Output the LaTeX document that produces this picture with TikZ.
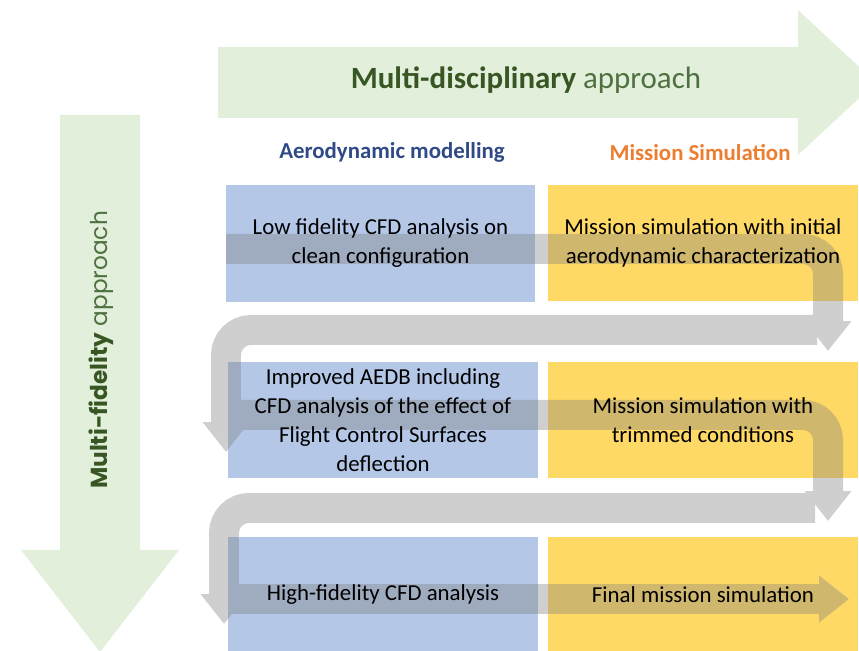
\documentclass[tikz,border=0pt]{standalone}
\usepackage{fontspec}
\setmainfont{Carlito}
\newfontfamily\geofont{Poppins}
\usetikzlibrary{arrows.meta,positioning}

\pgfdeclarelayer{background}
\pgfdeclarelayer{flowlayer}
\pgfsetlayers{background,flowlayer,main}

\definecolor{arrowgreen}{HTML}{E2EFDA}
\definecolor{titlegreen}{HTML}{375623}
\definecolor{softgreen}{HTML}{4F7040}
\definecolor{aeroblue}{HTML}{2F4A86}
\definecolor{missionorange}{HTML}{ED7D31}
\definecolor{boxblue}{HTML}{B4C7E7}
\definecolor{boxyellow}{HTML}{FFD966}
\definecolor{flowgray}{HTML}{7D7D7D}

\tikzset{
	stagebox/.style={minimum width=6.18cm, minimum height=2.32cm, inner sep=0pt, align=center, font=\fontsize{13}{16.5}\selectfont},
	header/.style={font=\fontsize{13}{15}\selectfont\bfseries},
	flow/.style={draw=flowgray, line width=0.6cm, rounded corners=0.5cm, -{Triangle[width=0.9cm, length=0.6cm]}}
}

\begin{document}
\begin{tikzpicture}[x=0.02cm, y=-0.02cm]

\useasboundingbox (0,0) rectangle (859,651);

% Big green arrows
\fill[arrowgreen] (218,47) -- (798,47) -- (798,10) -- (876,82.5) -- (798,155) -- (798,118) -- (218,118) -- cycle;
\fill[arrowgreen] (60,115) -- (140,115) -- (140,550) -- (179,550) -- (100,652) -- (21,550) -- (60,550) -- cycle;

\node[font=\fontsize{17.6}{20}\selectfont] (mdtitle) at (526,80) {\textcolor{titlegreen}{\bfseries Multi-disciplinary} \textcolor{softgreen}{approach}};
\node[rotate=90, font=\geofont\fontsize{13.2}{15}\selectfont] (mftitle) at (101,350) {\textcolor{titlegreen}{\bfseries Multi-fidelity} \textcolor{softgreen}{approach}};

% Column headers
\node[header, text=aeroblue] (aerohead) at (392,152) {Aerodynamic modelling};
\node[header, text=missionorange] (misshead) at (700,153) {Mission Simulation};

% Aerodynamic modelling column
\node[stagebox] (aero1) at (380.5,243.5) {Low fidelity CFD analysis on\\clean configuration};
\node[stagebox] (aero2) at (383,420) {Improved AEDB including\\CFD analysis of the effect of\\Flight Control Surfaces\\deflection};
\node[stagebox] (aero3) at (383,595) {High-fidelity CFD analysis};

% Mission simulation column
\node[stagebox] (miss1) at (703,243) {Mission simulation with initial\\aerodynamic characterization};
\node[stagebox] (miss2) at (703,420) {Mission simulation with\\trimmed conditions};
\node[stagebox] (miss3) at (703,595) {Final mission simulation};

% Box colours behind the flow
\begin{pgfonlayer}{background}
\foreach \i in {1,2,3} {
	\fill[boxblue] (aero\i.north west) rectangle (aero\i.south east);
	\fill[boxyellow] (miss\i.north west) rectangle (miss\i.south east);
}
\end{pgfonlayer}

% Ends of the winding flow
\coordinate (s1) at (226,249);  \coordinate (e1) at (828,351);
\coordinate (s2) at (817,330);  \coordinate (e2) at (226,452);
\coordinate (s3) at (237,415);  \coordinate (e3) at (828,521);
\coordinate (s4) at (815,508);  \coordinate (e4) at (224,624);
\coordinate (s5) at (219,599);  \coordinate (e5) at (849,599);

\begin{pgfonlayer}{flowlayer}
\begin{scope}[transparency group, opacity=0.37]
\foreach \i in {1,...,4} {
	\draw[flow] (s\i) -- (s\i -| e\i) -- (e\i);
}
\draw[flow] (s5) -- (e5);
\end{scope}
\end{pgfonlayer}

\end{tikzpicture}
\end{document}
